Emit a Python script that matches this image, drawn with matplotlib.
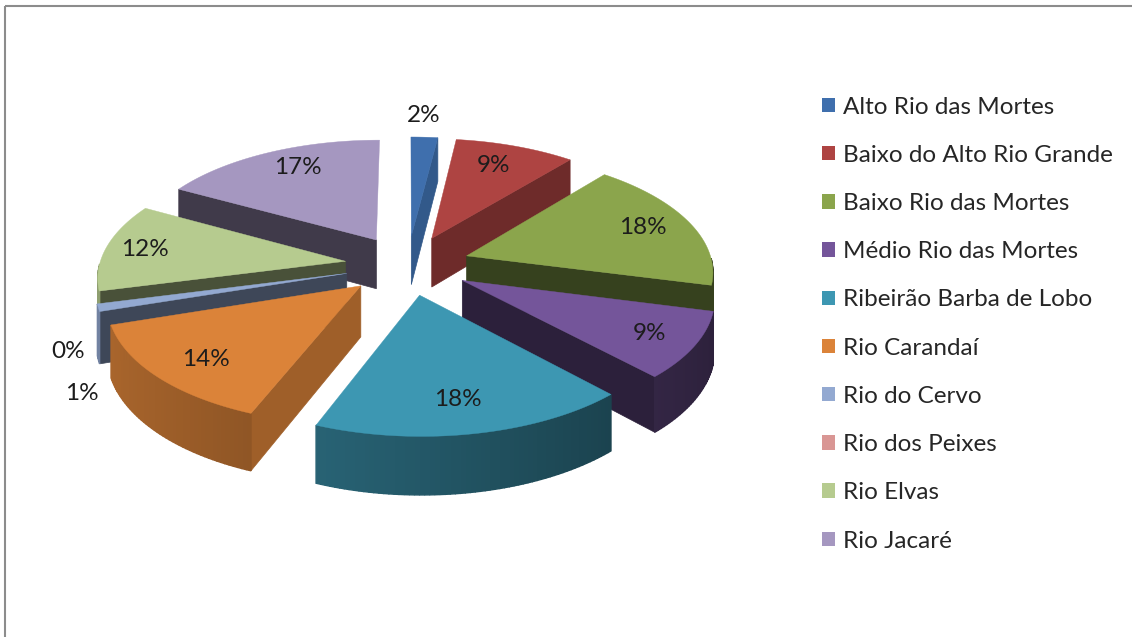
import numpy as np
import matplotlib
matplotlib.use("Agg")
import matplotlib.pyplot as plt
from matplotlib.colors import to_rgb
from matplotlib.patches import Patch, Polygon, Rectangle

categories = [
    "Alto Rio das Mortes",
    "Baixo do Alto Rio Grande",
    "Baixo Rio das Mortes",
    "Médio Rio das Mortes",
    "Ribeirão Barba de Lobo",
    "Rio Carandaí",
    "Rio do Cervo",
    "Rio dos Peixes",
    "Rio Elvas",
    "Rio Jacaré",
]
percent = [2, 9, 18, 9, 18, 14, 1, 0, 12, 17]
colors = ["#3f6fad", "#ae4442", "#8ba54c", "#74559a", "#3d97b2",
          "#db8339", "#93a9d1", "#d99694", "#b6cb8f", "#a597c0"]

# where the percentage labels sit, in pixels
label_x = [424, 493, 643, 649, 458, 206, 82, 68, 145, 298]
label_y = [116, 166, 228, 334, 399, 360, 394, 351, 250, 168]

plt.rcParams["font.family"] = ["Lato", "DejaVu Sans"]

# pie geometry, in pixels
CX, CY = 407.5, 265
RX, RY = 246, 117
PERSP = 0.117
DEPTH = 50
EXPLODE = 0.255


def project(u, v, z=0.0):
    # disc coordinates to the screen, v points at the viewer
    d = 1 - PERSP * v
    return CX + RX * u / d, CY + (RY * v + DEPTH * z) / d


def shade(color, f):
    return tuple(c * f for c in to_rgb(color))


def radial_factor(normal):
    return np.interp(normal, [97, 130, 165, 230], [0.8, 0.63, 0.4, 0.38])


def outer_factor(theta):
    return 0.58 - 0.2 * np.sin(np.radians(theta))


def faces_viewer(angle):
    return -np.cos(np.radians(angle)) > 0.02


fig = plt.figure(figsize=(11.32, 6.37), dpi=100)
ax = fig.add_axes([0, 0, 1, 1])
ax.set_xlim(0, 1132)
ax.set_ylim(637, 0)
ax.axis("off")

# chart area frame, only top and left edges are in view
ax.add_patch(Rectangle((4.5, 5.5), 1200, 700, fill=False, ec="#8c8c8c", lw=1.5))

edges = np.cumsum([0] + percent) * 3.6
wedges = []
for i, value in enumerate(percent):
    if value == 0:
        continue
    a0, a1 = edges[i], edges[i + 1]
    mid = (a0 + a1) / 2
    wedges.append((-np.cos(np.radians(mid)), i, a0, a1, mid))

# paint from the back of the pie to the front
for _, i, a0, a1, mid in sorted(wedges):
    col = colors[i]
    ou = EXPLODE * np.sin(np.radians(mid))
    ov = -EXPLODE * np.cos(np.radians(mid))
    angles = np.linspace(a0, a1, max(int(a1 - a0), 2) + 1)
    us = ou + np.sin(np.radians(angles))
    vs = ov - np.cos(np.radians(angles))

    # flat walls towards the neighbouring slices
    for normal, end in [(a0 - 90, 0), (a1 + 90, -1)]:
        normal = normal % 360
        if not faces_viewer(normal):
            continue
        wall = [project(ou, ov), project(us[end], vs[end]),
                project(us[end], vs[end], 1), project(ou, ov, 1)]
        fc = shade(col, radial_factor(normal))
        ax.add_patch(Polygon(wall, closed=True, fc=fc, ec=fc, lw=0.5))

    # curved outer wall, one strip per step so the shading can change
    for j in range(len(angles) - 1):
        theta = (angles[j] + angles[j + 1]) / 2
        if not faces_viewer(theta):
            continue
        strip = [project(us[j], vs[j]), project(us[j + 1], vs[j + 1]),
                 project(us[j + 1], vs[j + 1], 1), project(us[j], vs[j], 1)]
        fc = shade(col, outer_factor(theta))
        ax.add_patch(Polygon(strip, closed=True, fc=fc, ec=fc, lw=1.0))

    top = [project(ou, ov)] + [project(a, b) for a, b in zip(us, vs)]
    ax.add_patch(Polygon(top, closed=True, fc=col, ec=col, lw=0.3))

for x, y, value in zip(label_x, label_y, percent):
    ax.text(x, y, f"{value}%", ha="center", va="center",
            fontsize=17.5, color="#1c1c1c")

handles = [Patch(fc=c, ec="none", label=name) for c, name in zip(colors, categories)]
ax.legend(handles=handles, loc="upper left", bbox_to_anchor=(822, 96.5),
          bbox_transform=ax.transData, frameon=False, fontsize=17.5,
          handlelength=0.535, handleheight=0.535, handletextpad=0.33,
          labelspacing=1.12, borderpad=0, borderaxespad=0, labelcolor="#262626")

fig.savefig("out.png", dpi=100)
